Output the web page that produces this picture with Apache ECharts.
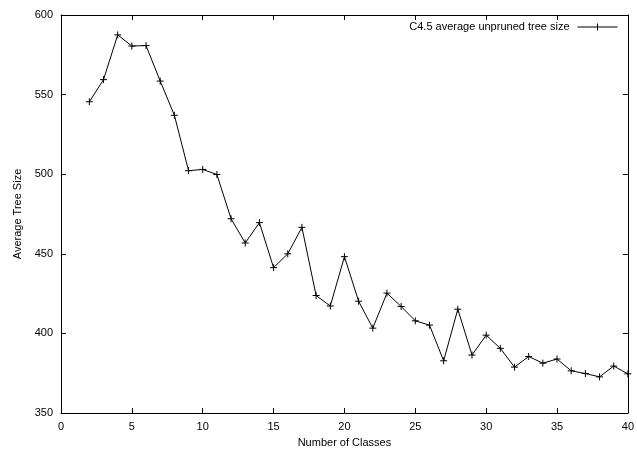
<!DOCTYPE html>
<html lang="en">
<head>
  <meta charset="UTF-8">
  <title>Average Tree Size</title>
  <style>
    html, body { margin: 0; padding: 0; background: #fff; }
    #chart { width: 637px; height: 453px; }
  </style>
</head>
<body>
<div id="chart"></div>
<script src="https://cdn.jsdelivr.net/npm/echarts@6/dist/echarts.min.js"></script>
<script>
  var numClasses = [2, 3, 4, 5, 6, 7, 8, 9, 10, 11, 12, 13, 14, 15, 16, 17, 18, 19, 20, 21,
    22, 23, 24, 25, 26, 27, 28, 29, 30, 31, 32, 33, 34, 35, 36, 37, 38, 39, 40]
  var treeSize = [545.5, 559.4, 587.5, 580.5, 580.8, 558.5, 537, 502.2, 503, 499.8, 472, 456.8, 469.6, 441.3, 450,
    466.6, 423.8, 417.2, 448.2, 420.2, 403.3, 425.3, 416.9, 407.9, 405.2, 382.8, 415.2, 386.4, 398.9, 390.6,
    378.8, 385.5, 381.3, 383.9, 376.5, 374.8, 372.7, 379.5, 374.6]
  var seriesName = 'C4.5 average unpruned tree size'

  var font = 'Liberation Sans, Arial, sans-serif'
  var plusSymbol = 'path://M0,-1L0,1M-1,0L1,0'

  var dom = document.getElementById('chart')
  var myChart = echarts.init(dom, null, { renderer: 'canvas' })

  var axisLine = { show: true, onZero: false, lineStyle: { color: '#000', width: 1 } }
  var tick = { show: true, inside: true, length: 5, lineStyle: { color: '#000' } }
  var label = { color: '#000', fontFamily: font, fontSize: 11 }

  var option = {
    animation: false,
    backgroundColor: '#fff',
    grid: { left: 61, right: 7, top: 15, bottom: 40 },
    legend: {
      data: [{ name: seriesName }],
      right: 12,
      top: 16,
      align: 'right',
      itemWidth: 40,
      itemHeight: 7,
      itemGap: 0,
      icon: 'path://M0,3.5L40,3.5M20,0L20,7',
      itemStyle: { color: 'none', borderColor: '#000', borderWidth: 1 },
      textStyle: { color: '#000', fontFamily: font, fontSize: 11, padding: [0, 3, 0, 0] }
    },
    xAxis: [
      {
        type: 'value', min: 0, max: 40, interval: 5, position: 'bottom',
        name: 'Number of Classes', nameLocation: 'middle', nameGap: 24,
        nameTextStyle: { color: '#000', fontFamily: font, fontSize: 11 },
        axisLine: axisLine, axisTick: tick, axisLabel: label,
        splitLine: { show: false }
      },
      {
        type: 'value', min: 0, max: 40, interval: 5, position: 'top',
        axisLine: axisLine, axisTick: tick, axisLabel: { show: false },
        splitLine: { show: false }
      }
    ],
    yAxis: [
      {
        type: 'value', min: 350, max: 600, interval: 50, position: 'left',
        name: 'Average Tree Size', nameLocation: 'middle', nameGap: 37,
        nameTextStyle: { color: '#000', fontFamily: font, fontSize: 11 },
        axisLine: axisLine, axisTick: tick, axisLabel: label,
        splitLine: { show: false }
      },
      {
        type: 'value', min: 350, max: 600, interval: 50, position: 'right',
        axisLine: axisLine, axisTick: tick, axisLabel: { show: false },
        splitLine: { show: false }
      }
    ],
    series: [
      {
        name: seriesName,
        type: 'line',
        data: numClasses.map(function(x, i) { return [x, treeSize[i]] }),
        symbol: plusSymbol,
        symbolSize: 7,
        showAllSymbol: true,
        lineStyle: { color: '#000', width: 1 },
        itemStyle: { color: 'none', borderColor: '#000', borderWidth: 1 },
        emphasis: { disabled: true }
      }
    ]
  }

  myChart.setOption(option)
  window.addEventListener('resize', myChart.resize)
</script>
</body>
</html>
